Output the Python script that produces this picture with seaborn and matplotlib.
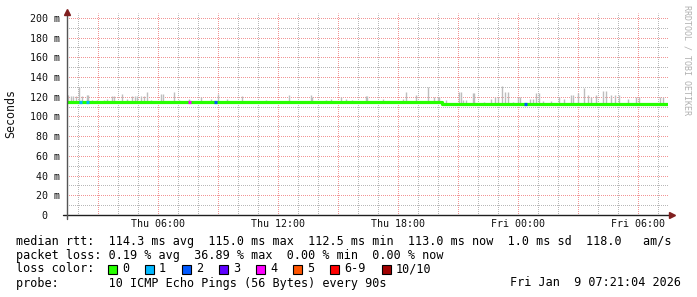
import numpy as np
import matplotlib
matplotlib.use("Agg")
import matplotlib.pyplot as plt
from matplotlib.patches import Rectangle
from matplotlib.ticker import MultipleLocator, FixedLocator, FuncFormatter
import seaborn as sns

# ---------------- data (time in hours since Thu 00:00, values in ms) ----------------
median_times = [1.45, 20.2, 31.5]
median_values = [114.9, 112.7, 112.7]

spike_times = [1.45, 1.5, 1.65, 1.75, 1.9, 2.05, 2.2, 2.45, 2.5, 2.7, 2.95, 3.3, 3.45, 3.7, 3.8,
               4.2, 4.45, 4.7, 4.85, 4.95, 5.15, 5.3, 5.45, 5.65, 6.15, 6.25, 6.8, 7.05, 7.55,
               8.15, 8.65, 9.0, 9.45, 10.2, 11.4, 12.55, 13.65, 13.7, 14.4, 14.65, 15.15, 15.4,
               15.7, 16.4, 16.45, 17.25, 18.25, 18.4, 18.9, 19.5, 19.8, 20.0, 20.05, 20.4, 21.05,
               21.15, 21.25, 21.4, 21.75, 21.8, 22.3, 22.65, 22.85, 23.0, 23.2, 23.35, 23.5, 23.75,
               24.0, 24.1, 24.6, 24.75, 24.9, 25.05, 25.25, 25.65, 26.05, 26.3, 26.65, 26.75, 27.0,
               27.3, 27.5, 27.65, 27.9, 28.25, 28.4, 28.65, 28.85, 29.05, 29.5, 29.9, 30.05, 31.1,
               31.25]
spike_tops = [122, 122, 121, 121, 121, 130, 121, 122, 122, 117, 117, 117, 118, 121, 121,
              123, 118, 121, 121, 121, 121, 121, 124.5, 117, 123, 123, 124.5, 117, 118,
              120, 118, 123, 118, 121, 117, 122, 122, 120, 117, 118, 120, 118,
              117, 121, 121, 118, 118, 124.5, 122, 129.5, 120, 120, 120, 117, 125,
              125, 117, 117, 124, 124, 115, 118, 120, 120, 131, 125, 125, 115,
              120, 120, 118, 118, 124, 124, 116, 116, 120, 118, 122, 122, 124,
              129, 122, 120, 122, 126, 126, 122, 122, 122, 118, 120, 120, 120,
              120]

loss_times = [2.1, 2.45, 7.55, 8.85, 24.35]
loss_counts = [1, 1, 4, 2, 2]

x_tick_hours = [6, 12, 18, 24, 30]
x_tick_labels = ["Thu 06:00", "Thu 12:00", "Thu 18:00", "Fri 00:00", "Fri 06:00"]
y_tick_values = [0, 20, 40, 60, 80, 100, 120, 140, 160, 180, 200]
y_tick_labels = ["0  ", "20 m", "40 m", "60 m", "80 m", "100 m", "120 m", "140 m",
                 "160 m", "180 m", "200 m"]

loss_labels = ["0", "1", "2", "3", "4", "5", "6-9", "10/10"]
loss_colors = ["#26ff00", "#00b8ff", "#0059ff", "#5e00ff", "#ff00ff", "#ff5500", "#ff0000", "#a00000"]

stats_rtt = "median rtt:  114.3 ms avg  115.0 ms max  112.5 ms min  113.0 ms now  1.0 ms sd  118.0   am/s"
stats_loss = "packet loss: 0.19 % avg  36.89 % max  0.00 % min  0.00 % now"
probe_text = "probe:       10 ICMP Echo Pings (56 Bytes) every 90s"
date_text = "Fri Jan  9 07:21:04 2026"
watermark = "RRDTOOL / TOBI OETIKER"

# ---------------- style ----------------
sns.set_theme(style="white")
plt.rcParams['font.family'] = ['DejaVu Sans Mono', 'DejaVu Sans']

W, H = 697, 297
fig = plt.figure(figsize=(W / 100, H / 100), dpi=100, facecolor="white")
ax_left, ax_right, ax_bottom, ax_top = 67, 668, 215, 13
ax = fig.add_axes([ax_left / W, (H - ax_bottom) / H, (ax_right - ax_left) / W, (ax_bottom - ax_top) / H])
ax.set_facecolor("white")

x0 = 1.45
x1 = x0 + (ax_right - ax_left) / 20.0
ax.set_xlim(x0, x1)
ax.set_ylim(0, 205)

# grid: major every 3 h / 20 ms (red), minor every 1 h / 10 ms (grey), 1px dotted
ax.xaxis.set_major_locator(MultipleLocator(3))
ax.xaxis.set_minor_locator(FixedLocator([h for h in range(1, 33) if h % 3 != 0]))
ax.yaxis.set_major_locator(MultipleLocator(20))
ax.yaxis.set_minor_locator(FixedLocator([v for v in range(10, 210, 20)]))
ax.grid(which="minor", color="#b8b8b8", linestyle=(0.5, (1, 1)), linewidth=0.72)
ax.grid(which="major", color="#f29595", linestyle=(0.5, (1, 1)), linewidth=0.72)
ax.set_axisbelow(True)

xlab = dict(zip(x_tick_hours, x_tick_labels))
ylab = dict(zip(y_tick_values, y_tick_labels))
ax.xaxis.set_major_formatter(FuncFormatter(lambda v, p: xlab.get(int(round(v)), "") if abs(v - round(v)) < 1e-6 else ""))
ax.yaxis.set_major_formatter(FuncFormatter(lambda v, p: ylab.get(int(round(v)), "")))
ax.tick_params(axis="both", which="both", length=0, labelsize=7.2, labelcolor="#111111")
ax.tick_params(axis="x", pad=3)
ax.tick_params(axis="y", pad=5)
for s in ax.spines.values():
    s.set_visible(False)

# smoke spikes
mt = np.array(median_times)
mv = np.array(median_values)
st = np.array(spike_times)
base = mv[np.clip(np.searchsorted(mt, st, side="right") - 1, 0, len(mv) - 1)]
ax.vlines(st, base - 1.0, spike_tops, color="#bdbdbd", linewidth=1.0, zorder=2)

# median line
sns.lineplot(x=median_times, y=median_values, drawstyle="steps-post", color=loss_colors[0],
             linewidth=2.3, ax=ax, zorder=3, estimator=None, sort=False)

# loss-colored segments
def loss_index(n):
    if n <= 5:
        return n
    if n < 10:
        return 6
    return 7

lt = np.array(loss_times)
lbase = mv[np.clip(np.searchsorted(mt, lt, side="right") - 1, 0, len(mv) - 1)]
for t, b, n in zip(lt, lbase, loss_counts):
    ax.hlines(b, t - 0.05, t + 0.1, color=loss_colors[loss_index(n)], linewidth=2.3, zorder=4)

# axes lines with arrows
wpx = ax_right - ax_left
hpx = ax_bottom - ax_top
ax.plot([-4 / wpx, 1 + 3 / wpx], [0, 0], transform=ax.transAxes, color="#1f1f1f", lw=1.0, clip_on=False, zorder=5)
ax.plot([0, 0], [-4 / hpx, 1], transform=ax.transAxes, color="#555555", lw=1.0, clip_on=False, zorder=5)
ax.plot([1 + 4 / wpx], [0], transform=ax.transAxes, marker=">", ms=4, color="#801f1f", clip_on=False, zorder=6)
ax.plot([0], [1 + 1 / hpx], transform=ax.transAxes, marker="^", ms=4, color="#801f1f", clip_on=False, zorder=6)

ax.set_xlabel("")
ax.set_ylabel("")
fig.text(11 / W, 1 - 114 / H, "Seconds", rotation=90, ha="center", va="center", fontsize=8.4, color="#111111")
fig.text(687 / W, 1 - 60 / H, watermark, rotation=270, ha="center", va="center", fontsize=6, color="#b0b0b0")

# bottom text
fs = 8.5
cw = 7.08  # monospace character advance in px
fig.text(16 / W, 1 - 241 / H, stats_rtt, ha="left", va="center", fontsize=fs, color="black")
fig.text(16 / W, 1 - 255 / H, stats_loss, ha="left", va="center", fontsize=fs, color="black")
fig.text(16 / W, 1 - 269 / H, "loss color:", ha="left", va="center", fontsize=fs, color="black")
bx = 108.0
for lab, col in zip(loss_labels, loss_colors):
    fig.add_artist(Rectangle((bx / W, 1 - 274 / H), 9 / W, 9 / H, transform=fig.transFigure,
                             facecolor=col, edgecolor="black", linewidth=0.8))
    fig.text((bx + 14) / W, 1 - 269 / H, lab, ha="left", va="center", fontsize=fs, color="black")
    bx += 30 + cw * len(lab)
fig.text(16 / W, 1 - 283 / H, probe_text, ha="left", va="center", fontsize=fs, color="black")
fig.text(681 / W, 1 - 283 / H, date_text, ha="right", va="center", fontsize=fs, color="black")

fig.savefig("out.png", dpi=100, facecolor="white")
